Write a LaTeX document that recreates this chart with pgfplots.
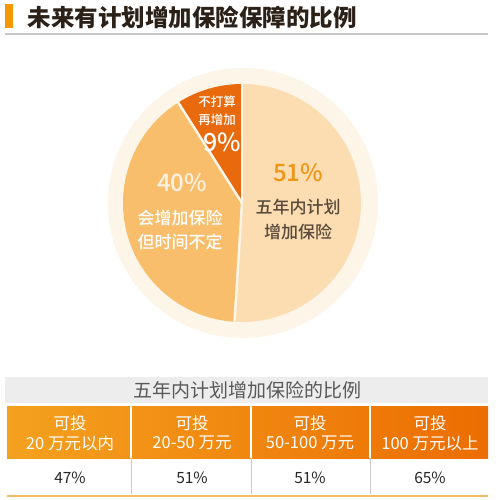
\documentclass[border=0pt]{standalone}
\usepackage{fontspec}
\usepackage{pgfplots}
\pgfplotsset{compat=1.18}
\usepackage{pgfplotstable}
\newfontfamily\cjk{Noto Sans CJK SC}
\newfontfamily\cjkm{Noto Sans CJK SC}[UprightFont={* Medium}]

\definecolor{ring}{HTML}{FDF5E8}
\definecolor{sA}{HTML}{FCDDB1}
\definecolor{sB}{HTML}{F8BE6C}
\definecolor{sC}{HTML}{E86A0C}
\definecolor{pct}{HTML}{EF9414}
\definecolor{dark}{HTML}{594A3C}
\definecolor{ttl}{HTML}{2B2118}
\definecolor{bar}{HTML}{F39800}
\definecolor{hdl}{HTML}{F4A11F}
\definecolor{hdr}{HTML}{EC6D00}

% pie shares (%), clockwise from 12 o'clock
\pgfplotstableread{
name share
A 51
B 40
C 9
}\piedata
\pgfplotstablegetelem{0}{share}\of\piedata \let\vA\pgfplotsretval
\pgfplotstablegetelem{1}{share}\of\piedata \let\vB\pgfplotsretval
\pgfplotstablegetelem{2}{share}\of\piedata \let\vC\pgfplotsretval
\pgfmathsetmacro\aA{90}
\pgfmathsetmacro\aB{\aA-3.6*\vA}
\pgfmathsetmacro\aC{\aB-3.6*\vB}
\pgfmathsetmacro\aD{\aC-3.6*\vC}
\def\cx{242}\def\cy{203}\def\R{119}
\tikzset{
  hd/.style={text=white, font=\cjk\fontsize{16.5}{18}\selectfont},
  val/.style={text=black!85, font=\cjk\fontsize{15.5}{18}\selectfont},
  sep/.style={ring, line width=2.5pt},
  lab/.style={font=\cjkm\fontsize{17}{20}\selectfont},
  big/.style={font=\cjkm\fontsize{24}{26}\selectfont},
}

\begin{document}
\begin{tikzpicture}
\begin{axis}[
  scale only axis, width=495pt, height=500pt,
  xmin=0, xmax=495, ymin=0, ymax=500, y dir=reverse,
  hide axis, clip=false,
]
\fill[white] (axis cs:0,0) rectangle (axis cs:495,500);
% title
\fill[bar] (axis cs:5,4) rectangle (axis cs:13,28);
\node[anchor=west, text=ttl, font=\cjk\bfseries\fontsize{23.5}{26}\selectfont] at (axis cs:24,17) {未来有计划增加保险保障的比例};
\draw[black!22, line width=1.5pt] (axis cs:5,34) -- (axis cs:488,34);
% pie
\fill[ring] (axis cs:243,203) circle[radius=135pt];
\fill[sA] (axis cs:\cx,\cy) -- (axis cs:{\cx+\R*cos(\aA)},{\cy-\R*sin(\aA)}) arc[start angle=\aA, end angle=\aB, radius=\R pt] -- cycle;
\fill[sB] (axis cs:\cx,\cy) -- (axis cs:{\cx+\R*cos(\aB)},{\cy-\R*sin(\aB)}) arc[start angle=\aB, end angle=\aC, radius=\R pt] -- cycle;
\fill[sC] (axis cs:\cx,\cy) -- (axis cs:{\cx+\R*cos(\aC)},{\cy-\R*sin(\aC)}) arc[start angle=\aC, end angle=\aD, radius=\R pt] -- cycle;
\draw[sep] (axis cs:\cx,\cy) -- (axis cs:{\cx+(\R+2)*cos(\aA)},{\cy-(\R+2)*sin(\aA)});
\draw[sep] (axis cs:\cx,\cy) -- (axis cs:{\cx+(\R+2)*cos(\aB)},{\cy-(\R+2)*sin(\aB)});
\draw[sep] (axis cs:\cx,\cy) -- (axis cs:{\cx+(\R+2)*cos(\aC)},{\cy-(\R+2)*sin(\aC)});
% pie labels
\node[big, text=pct] at (axis cs:298,173) {51\%};
\node[lab, text=dark] at (axis cs:298,207) {五年内计划};
\node[lab, text=dark] at (axis cs:298,232) {增加保险};
\node[big, text=white!80!sB] at (axis cs:182,183) {40\%};
\node[lab, text=white] at (axis cs:180,218) {会增加保险};
\node[lab, text=white] at (axis cs:180,242) {但时间不定};
\node[text=white, font=\cjkm\fontsize{12.5}{14}\selectfont] at (axis cs:217,102) {不打算};
\node[text=white, font=\cjkm\fontsize{12.5}{14}\selectfont] at (axis cs:217,120) {再增加};
\node[text=white, font=\cjkm\fontsize{25}{27}\selectfont] at (axis cs:222,142) {9\%};
% table
\fill[black!7] (axis cs:5,377) rectangle (axis cs:488,403);
\node[text=black!65, font=\cjk\fontsize{19}{21}\selectfont] at (axis cs:247,390) {五年内计划增加保险的比例};
\shade[left color=hdl, right color=hdr] (axis cs:7,406) rectangle (axis cs:488,458);
\draw[white, line width=1.2pt] (axis cs:131,406) -- (axis cs:131,458);
\draw[white, line width=1.2pt] (axis cs:251,406) -- (axis cs:251,458);
\draw[white, line width=1.2pt] (axis cs:370,406) -- (axis cs:370,458);
\draw[black!20, line width=0.8pt] (axis cs:131,458) -- (axis cs:131,494);
\draw[black!20, line width=0.8pt] (axis cs:251,458) -- (axis cs:251,494);
\draw[black!20, line width=0.8pt] (axis cs:370,458) -- (axis cs:370,494);
\node[hd] at (axis cs:70,423) {可投};
\node[hd] at (axis cs:70,443) {20 万元以内};
\node[hd] at (axis cs:192,423) {可投};
\node[hd] at (axis cs:192,443) {20-50 万元};
\node[hd] at (axis cs:310,423) {可投};
\node[hd] at (axis cs:310,443) {50-100 万元};
\node[hd] at (axis cs:430,423) {可投};
\node[hd] at (axis cs:430,443) {100 万元以上};
\node[val] at (axis cs:70,478) {47\%};
\node[val] at (axis cs:192,478) {51\%};
\node[val] at (axis cs:310,478) {51\%};
\node[val] at (axis cs:430,478) {65\%};
\draw[hdl!70!white, line width=2.5pt] (axis cs:7,496) -- (axis cs:488,496);
\end{axis}
\end{tikzpicture}
\end{document}
